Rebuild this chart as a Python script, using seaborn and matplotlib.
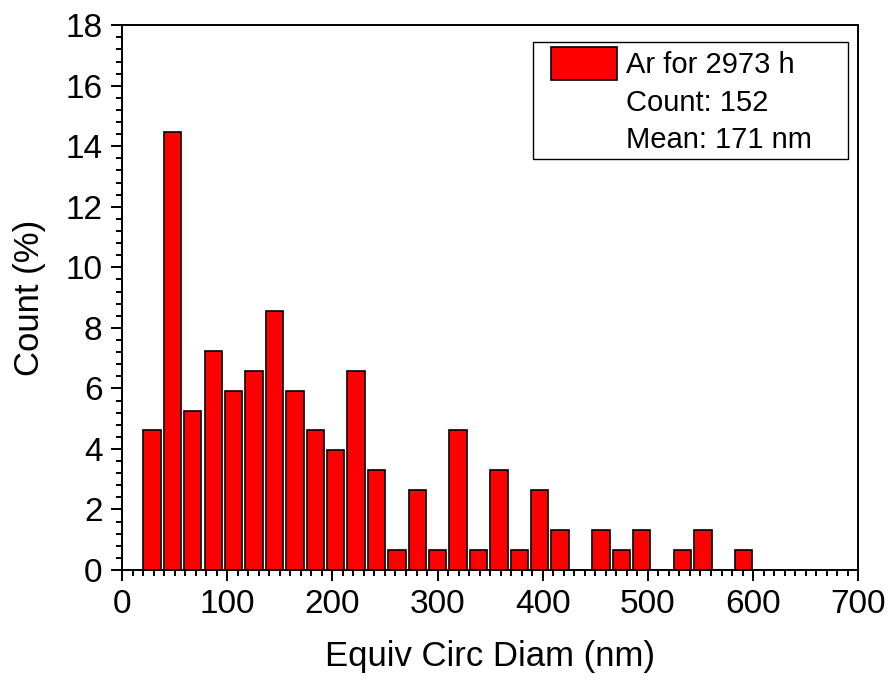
import matplotlib
matplotlib.use("Agg")
import matplotlib.pyplot as plt
from matplotlib.patches import Patch, Rectangle
from matplotlib.ticker import MultipleLocator
import seaborn as sns
import pandas as pd

# Bin centres (nm) and percentage of particles in each bin
bin_centers = [28.5, 47.9, 67.3, 86.7, 106.1, 125.5, 144.9, 164.3, 183.7, 203.1,
               222.5, 241.9, 261.3, 280.7, 300.1, 319.5, 338.9, 358.3, 377.7, 397.1,
               416.5, 435.9, 455.3, 474.7, 494.1, 513.5, 532.9, 552.3, 571.7, 591.1]
count_pct = [4.61, 14.47, 5.26, 7.24, 5.92, 6.58, 8.55, 5.92, 4.61, 3.95,
             6.58, 3.29, 0.66, 2.63, 0.66, 4.61, 0.66, 3.29, 0.66, 2.63,
             1.32, 0.0, 1.32, 0.66, 1.32, 0.0, 0.66, 1.32, 0.0, 0.66]
legend_lines = ["Ar for 2973 h", "Count: 152", "Mean: 171 nm"]

sns.set_theme(style="white")
plt.rcParams["font.family"] = ["Liberation Sans", "DejaVu Sans"]

df = pd.DataFrame({"diam": bin_centers, "pct": count_pct})

fig = plt.figure(figsize=(8.94, 6.87), dpi=100)
ax = fig.add_axes([0.1365, 0.1703, 0.8235, 0.7930])

sns.barplot(data=df, x="diam", y="pct", native_scale=True, width=0.85,
            color="#ff0000", saturation=1, edgecolor="black", linewidth=1.2,
            ax=ax)

ax.set_xlim(0, 700)
ax.set_ylim(0, 18)
ax.xaxis.set_major_locator(MultipleLocator(100))
ax.xaxis.set_minor_locator(MultipleLocator(10))
ax.yaxis.set_major_locator(MultipleLocator(2))
ax.yaxis.set_minor_locator(MultipleLocator(0.4))

for s in ax.spines.values():
    s.set_visible(True)
    s.set_color("black")
    s.set_linewidth(1.4)

ax.tick_params(which="both", direction="out", color="black", width=1.4,
               bottom=True, left=True, top=False, right=False)
ax.tick_params(which="major", length=8, labelsize=24, labelcolor="black", pad=6)
ax.tick_params(which="minor", length=4)

ax.set_xlabel("Equiv Circ Diam (nm)", fontsize=25, color="black", labelpad=14)
ax.set_ylabel("Count (%)", fontsize=25, color="black", labelpad=14)

# legend frame (wider padding than matplotlib's uniform borderpad)
ax.add_patch(Rectangle((0.5588, 0.7541), 0.4276, 0.2153, transform=ax.transAxes,
                       facecolor="white", edgecolor="black", linewidth=1.0,
                       zorder=4))

handles = [Patch(facecolor="#ff0000", edgecolor="black", linewidth=1.2),
           Patch(visible=False), Patch(visible=False)]
leg = ax.legend(handles, legend_lines, loc="upper left",
                bbox_to_anchor=(0.5823, 0.9594), borderaxespad=0,
                fontsize=21, frameon=False, handlelength=2.26, handleheight=1.348,
                handletextpad=0.315, labelspacing=0.16, borderpad=0)
leg.set_zorder(5)
for t in leg.get_texts():
    t.set_color("black")

fig.savefig("out.png", dpi=100)
